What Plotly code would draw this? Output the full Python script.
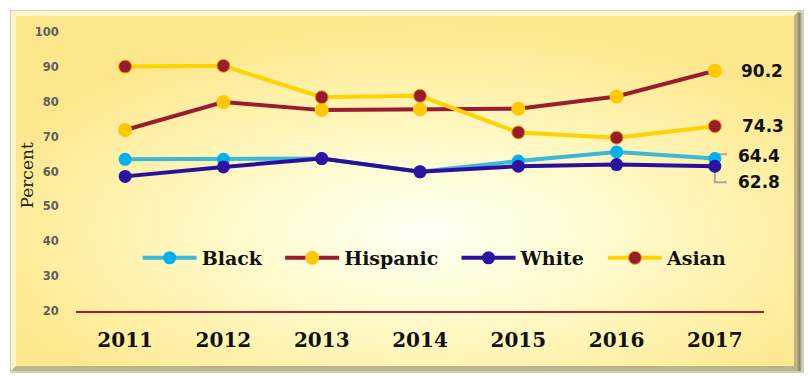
import base64
import plotly.graph_objects as go

# ---------------- data ----------------
years = ["2011", "2012", "2013", "2014", "2015", "2016", "2017"]
black = [63.5, 63.5, 63.7, 59.9, 63.0, 65.6, 63.7]
hispanic = [71.9, 79.9, 77.6, 77.8, 78.0, 81.5, 88.9]
white = [58.6, 61.3, 63.7, 59.9, 61.5, 62.0, 61.5]
asian = [90.1, 90.3, 81.3, 81.7, 71.2, 69.7, 73.0]
end_labels = {"Hispanic": "90.2", "Asian": "74.3", "Black": "64.4", "White": "62.8"}
y_ticks = [20, 30, 40, 50, 60, 70, 80, 90, 100]

# ---------------- layout geometry ----------------
W, H = 808, 377
L, R, T, B = 76, 44, 32, 66
PW, PH = W - L - R, H - T - B

svg = f"""<svg xmlns='http://www.w3.org/2000/svg' width='{W}' height='{H}' viewBox='0 0 {W} {H}' preserveAspectRatio='none'>
<defs>
<radialGradient id='g' cx='0.53' cy='0.62' r='0.6' fx='0.53' fy='0.62'>
<stop offset='0' stop-color='#FFFFF4'/>
<stop offset='0.35' stop-color='#FFFCD2'/>
<stop offset='0.75' stop-color='#FEF0A6'/>
<stop offset='1' stop-color='#FCE78C'/>
</radialGradient>
<linearGradient id='rs' x1='0' y1='0' x2='1' y2='0'>
<stop offset='0' stop-color='#C9BE8E'/>
<stop offset='0.6' stop-color='#8F8662'/>
<stop offset='1' stop-color='#CFCBBB'/>
</linearGradient>
</defs>
<rect width='{W}' height='{H}' fill='#FFFFFF'/>
<rect x='10' y='10' width='{W-14}' height='{H-14}' fill='#D3CFBF'/>
<polygon points='11,11 {W-9},11 {W-14},16 16,16 16,{H-11} 11,{H-6}' fill='#FFF6C4'/>
<polygon points='{W-9},11 {W-9},{H-6} 11,{H-6} 16,{H-11} {W-14},{H-11} {W-14},16' fill='#BDB38A'/>
<rect x='{W-12}' y='13' width='6' height='{H-19}' fill='url(#rs)'/>
<rect x='16' y='16' width='{W-30}' height='{H-27}' fill='url(#g)'/>
</svg>"""
src = "data:image/svg+xml;base64," + base64.b64encode(svg.encode()).decode()

fig = go.Figure()

NB = "\u00a0\u00a0"  # spacing between legend entries
series = [
    ("Black", black, "#3DB8D6", "#00B0F0", 13, None, NB),
    ("Hispanic", hispanic, "#9B1B30", "#FFC800", 14, None, NB),
    ("White", white, "#2B109E", "#2B13A3", 13, None, NB),
    ("Asian", asian, "#FFD200", "#981B2E", 13, "#F0A800", ""),
]
for name, vals, lc, mc, ms, mlc, pad in series:
    fig.add_trace(go.Scatter(
        x=years, y=vals, name=name + pad, mode="lines+markers",
        line=dict(color=lc, width=4),
        marker=dict(color=mc, size=ms,
                    line=dict(color=mlc if mlc else mc, width=1 if mlc else 0)),
        hoverinfo="skip",
    ))

# end labels
last = len(years) - 1
vals_by_name = {"Black": black, "Hispanic": hispanic, "White": white, "Asian": asian}
label_shift = {"Hispanic": (24, 0), "Asian": (25, 0), "Black": (21, 3), "White": (21, -16)}
for name, txt in end_labels.items():
    xs, ys = label_shift[name]
    fig.add_annotation(
        x=last, y=vals_by_name[name][-1], xref="x", yref="y",
        text=txt, showarrow=False, xanchor="left", yanchor="middle",
        xshift=xs, yshift=ys,
        font=dict(family="DejaVu Sans", size=17, color="#111111", weight="bold"),
    )

# leader bracket for the two close labels (pixel offsets around the 2017 White point)
fig.add_shape(
    type="path", xref="x", yref="y",
    xsizemode="pixel", ysizemode="pixel",
    xanchor=last, yanchor=white[-1],
    path="M 12,12 L 0,12 L 0,-16 L 12,-16",
    line=dict(color="#A6A6A6", width=2), layer="below",
)

# y-axis title
fig.add_annotation(
    x=0, y=0.5, xref="paper", yref="paper", xshift=-50, yshift=-4,
    text="Percent", textangle=-90, showarrow=False,
    xanchor="center", yanchor="middle",
    font=dict(family="DejaVu Serif", size=17, color="#222222"),
)

fig.update_layout(
    width=W, height=H,
    margin=dict(l=L, r=R, t=T, b=B),
    paper_bgcolor="#FFFFFF",
    plot_bgcolor="rgba(0,0,0,0)",
    showlegend=True,
    legend=dict(
        orientation="h", x=0.522, xanchor="center", y=0.19, yanchor="middle",
        bgcolor="rgba(0,0,0,0)",
        font=dict(family="DejaVu Serif", size=19, color="#111111", weight="bold"),
        itemwidth=54, traceorder="normal",
    ),
    xaxis=dict(
        type="category", range=[-0.5, len(years) - 0.5],
        showgrid=False, zeroline=False,
        showline=True, linecolor="#A51C36", linewidth=2,
        ticks="outside", ticklen=10, tickcolor="rgba(0,0,0,0)",
        tickfont=dict(family="DejaVu Serif", size=20, color="#111111", weight="bold"),
    ),
    yaxis=dict(
        range=[20, 100], tickvals=y_ticks,
        showgrid=False, zeroline=False, showline=False,
        ticks="outside", ticklen=14, tickcolor="rgba(0,0,0,0)",
        tickfont=dict(family="DejaVu Sans", size=11.5, color="#5E5E5E", weight="bold"),
    ),
    images=[dict(
        source=src, xref="paper", yref="paper",
        x=-L / PW, y=1 + T / PH, sizex=W / PW, sizey=H / PH,
        xanchor="left", yanchor="top", sizing="stretch", layer="below",
    )],
)

fig.write_html("out.html", config={"displayModeBar": False},
               post_script="document.body.style.margin='0';")
